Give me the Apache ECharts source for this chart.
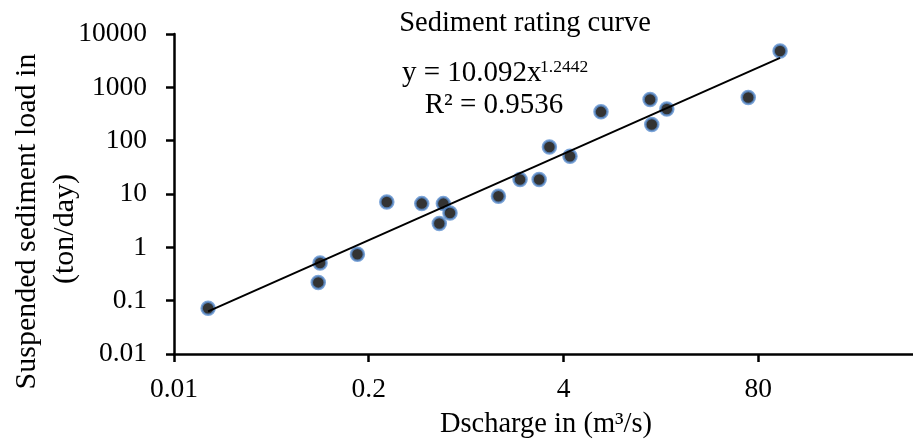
<!DOCTYPE html>
<html>
<head>
<meta charset="utf-8">
<script src="https://cdn.jsdelivr.net/npm/echarts@6/dist/echarts.min.js"></script>
<style>
html,body{margin:0;padding:0;background:#fff;}
#chart{width:913px;height:441px;}
</style>
</head>
<body>
<div id="chart"></div>
<script>
// Discharge (m3/s) and suspended sediment load (ton/day)
const dischargeValues = [0.0169, 0.0946, 0.092, 0.168, 0.264, 0.452, 0.63, 0.698, 0.592, 1.47, 2.05, 2.75, 3.22, 4.42, 7.12, 15.15, 15.55, 19.6, 68.6, 111.9];
const sedimentValues  = [0.072, 0.51, 0.22, 0.74, 7.1, 6.6, 6.6, 4.4, 2.8, 9.1, 18.7, 18.7, 76, 51, 347, 593, 201, 391, 647, 4800];
// Power trendline end points (y = 10.092x^1.2442)
const trendX = [0.0169, 111.9];
const trendY = [0.063, 3570];
// Tick labels
const xTickValues = [0.01, 0.2, 4, 80, 1600];
const xTickLabels = ['0.01', '0.2', '4', '80', '1600'];
const yTickValues = [0.01, 0.1, 1, 10, 100, 1000, 10000];
const yTickLabels = ['0.01', '0.1', '1', '10', '100', '1000', '10000'];

const FONT = '"Liberation Serif", "Times New Roman", serif';

function nearestLabel(v, vals, labels) {
  let best = 0, bd = Infinity;
  for (let i = 0; i < vals.length; i++) {
    const d = Math.abs(Math.log(v) - Math.log(vals[i]));
    if (d < bd) { bd = d; best = i; }
  }
  return labels[best];
}

const scatterData = dischargeValues.map((x, i) => [x, sedimentValues[i]]);
const trendData = trendX.map((x, i) => [x, trendY[i]]);

const chart = echarts.init(document.getElementById('chart'), null, {renderer: 'canvas'});
chart.setOption({
  animation: false,
  backgroundColor: '#ffffff',
  grid: {left: 174, right: -40, top: 34, bottom: 87, containLabel: false, outerBoundsMode: 'none'},
  xAxis: {
    type: 'log',
    logBase: 10,
    min: 0.01,
    max: 1600,
    axisLine: {show: true, onZero: false, lineStyle: {color: '#000', width: 2.5}},
    axisTick: {show: true, length: 8, inside: false, lineStyle: {color: '#000', width: 2.5}, customValues: xTickValues},
    axisLabel: {
      show: true, margin: 22, color: '#000', fontFamily: FONT, fontSize: 27.5,
      customValues: xTickValues,
      formatter: v => nearestLabel(v, xTickValues, xTickLabels)
    },
    splitLine: {show: false},
    minorTick: {show: false}
  },
  yAxis: {
    type: 'log',
    logBase: 10,
    min: 0.01,
    max: 10000,
    axisLine: {show: true, onZero: false, lineStyle: {color: '#000', width: 2.5}},
    axisTick: {show: true, length: 8, inside: false, lineStyle: {color: '#000', width: 2.5}},
    axisLabel: {
      show: true, margin: 27, color: '#000', fontFamily: FONT, fontSize: 27.5,
      formatter: v => nearestLabel(v, yTickValues, yTickLabels)
    },
    splitLine: {show: false}
  },
  series: [
    {
      type: 'scatter',
      data: scatterData,
      symbol: 'circle',
      symbolSize: 13,
      itemStyle: {color: '#000', borderColor: '#5b8fd0', borderWidth: 2.5},
      z: 2
    },
    {
      type: 'line',
      data: trendData,
      symbol: 'none',
      lineStyle: {color: '#000', width: 2},
      z: 3
    }
  ],
  graphic: [
    {type: 'text', x: 525, y: 24,
      style: {text: 'Sediment rating curve', font: '28.5px ' + FONT, fill: '#000', textAlign: 'center', textVerticalAlign: 'middle'}},
    {type: 'text', x: 402, y: 73,
      style: {text: 'y = 10.092x', font: '29px ' + FONT, fill: '#000', textAlign: 'left', textVerticalAlign: 'middle'}},
    {type: 'text', x: 540, y: 67,
      style: {text: '1.2442', font: '17.5px ' + FONT, fill: '#000', textAlign: 'left', textVerticalAlign: 'middle'}},
    {type: 'text', x: 494, y: 105,
      style: {text: 'R² = 0.9536', font: '29px ' + FONT, fill: '#000', textAlign: 'center', textVerticalAlign: 'middle'}},
    {type: 'text', x: 546, y: 425,
      style: {text: 'Dscharge in (m³/s)', font: '28.5px ' + FONT, fill: '#000', textAlign: 'center', textVerticalAlign: 'middle'}},
    {type: 'text', x: 27, y: 221.5, rotation: Math.PI / 2,
      style: {text: 'Suspended sediment load in', font: '30px ' + FONT, fill: '#000', textAlign: 'center', textVerticalAlign: 'middle'}},
    {type: 'text', x: 65, y: 229, rotation: Math.PI / 2,
      style: {text: '(ton/day)', font: '30px ' + FONT, fill: '#000', textAlign: 'center', textVerticalAlign: 'middle'}}
  ]
});
</script>
</body>
</html>
